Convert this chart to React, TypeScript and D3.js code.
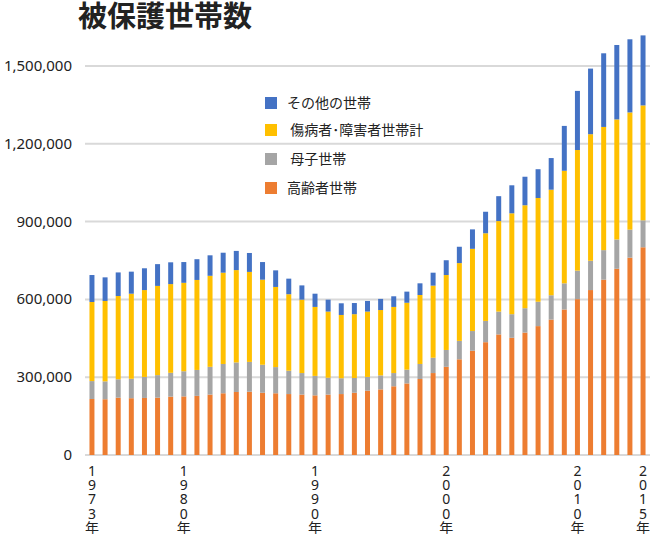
import * as d3 from "d3";
import { useEffect, useRef } from "react";

const years = d3.range(1973, 2016);
const labelYears = [1973, 1980, 1990, 2000, 2010, 2015];
const yTicks = [0, 300000, 600000, 900000, 1200000, 1500000];

// 千世帯単位
const elderly = [216, 215, 221, 219, 220, 221, 225, 226, 228, 233, 238, 243, 244, 240, 238, 235, 233, 230, 233, 235, 240, 248, 253, 265, 276, 293, 316, 340, 369, 402, 435, 465, 452, 472, 497, 522, 561, 601, 636, 676, 718, 761, 801];
const single = [69, 69, 71, 75, 81, 87, 92, 97, 100, 107, 113, 114, 115, 108, 101, 90, 83, 75, 65, 61, 57, 53, 54, 51, 53, 58, 59, 65, 71, 76, 82, 88, 91, 94, 94, 94, 101, 110, 113, 114, 113, 108, 104];
const disabled = [305, 310, 321, 328, 335, 344, 342, 341, 347, 351, 352, 356, 347, 328, 309, 295, 283, 266, 255, 244, 246, 252, 252, 255, 258, 266, 278, 289, 300, 317, 338, 349, 389, 397, 400, 407, 434, 465, 488, 475, 463, 452, 443];
const other = [104, 91, 91, 85, 84, 84, 84, 80, 80, 79, 77, 74, 73, 68, 64, 60, 55, 51, 46, 45, 43, 41, 43, 41, 43, 45, 50, 57, 63, 75, 83, 96, 108, 110, 111, 122, 173, 228, 253, 284, 287, 282, 270];

const seriesNames = ["高齢者世帯", "母子世帯", "傷病者･障害者世帯計", "その他の世帯"];
const legendLabels = ["その他の世帯", " 傷病者･障害者世帯計", " 母子世帯", "高齢者世帯"];
const colors = ["#ED7D31", "#A5A5A5", "#FFC000", "#4472C4"];

function ChartFc(container: HTMLElement) {
  const width = 650;
  const height = 534;
  const font = "'Noto Sans', 'Noto Sans CJK JP', sans-serif";

  const svg = d3.select(container)
    .append("svg")
    .attr("width", width)
    .attr("height", height)
    .attr("style", "position:absolute; left:0; top:0; background:#fff;");

  const rows = years.map((y, i) => ({
    year: y,
    [seriesNames[0]]: elderly[i] * 1000,
    [seriesNames[1]]: single[i] * 1000,
    [seriesNames[2]]: disabled[i] * 1000,
    [seriesNames[3]]: other[i] * 1000,
  }));
  const stacked = d3.stack<any>().keys(seriesNames)(rows);

  const x = d3.scaleBand<number>(years, [85.4, 649.6]).paddingInner(0.62).paddingOuter(0.31);
  const y = d3.scaleLinear([0, 1500000], [455, 66]);

  // タイトル
  svg.append("text")
    .attr("x", 78)
    .attr("y", 27)
    .attr("font-family", "'Noto Sans CJK JP', sans-serif")
    .attr("font-size", 29)
    .attr("font-weight", "bold")
    .attr("fill", "#222")
    .text("被保護世帯数");

  // グリッド
  svg.append("g")
    .selectAll("line")
    .data(yTicks)
    .join("line")
    .attr("x1", 85)
    .attr("x2", 650)
    .attr("y1", d => y(d))
    .attr("y2", d => y(d))
    .attr("stroke", "#d9d9d9")
    .attr("stroke-width", 2);

  svg.append("g")
    .selectAll("text")
    .data(yTicks)
    .join("text")
    .attr("x", 72)
    .attr("y", d => y(d) + 5)
    .attr("text-anchor", "end")
    .attr("font-family", font)
    .attr("font-size", 15)
    .attr("fill", "#222")
    .text(d => d3.format(",")(d));

  // 棒
  svg.append("g")
    .selectAll("g")
    .data(stacked)
    .join("g")
    .attr("fill", (_, i) => colors[i])
    .selectAll("rect")
    .data(d => d)
    .join("rect")
    .attr("x", d => x(d.data.year)!)
    .attr("width", x.bandwidth())
    .attr("y", d => y(d[1]))
    .attr("height", d => y(d[0]) - y(d[1]));

  // x軸ラベル（縦書き）
  const xl = svg.append("g")
    .selectAll("text")
    .data(labelYears)
    .join("text")
    .attr("font-family", font)
    .attr("font-size", 14)
    .attr("fill", "#222")
    .attr("text-anchor", "middle");
  xl.selectAll("tspan")
    .data(d => (String(d) + "年").split("").map(c => ({ c, yr: d })))
    .join("tspan")
    .attr("x", d => x(d.yr)! + x.bandwidth() / 2)
    .attr("y", (_, i) => 476 + i * 14.2)
    .text(d => d.c);

  // 凡例
  const legend = svg.append("g")
    .selectAll("g")
    .data(legendLabels)
    .join("g")
    .attr("transform", (_, i) => `translate(265, ${[103, 130, 159, 188][i]})`);
  legend.append("rect")
    .attr("x", 0)
    .attr("y", -6)
    .attr("width", 12)
    .attr("height", 12)
    .attr("fill", (_, i) => colors[3 - i]);
  legend.append("text")
    .attr("x", 22)
    .attr("y", 5)
    .attr("font-family", "'Noto Sans CJK JP', sans-serif")
    .attr("font-size", 14)
    .attr("fill", "#222")
    .attr("xml:space", "preserve")
    .style("white-space", "pre")
    .text(d => d);
}

export default function App() {
  const domRef = useRef<HTMLDivElement>(null);
  useEffect(() => {
    if (domRef.current) {
      ChartFc(domRef.current);
    }
    return () => {
      if (domRef.current) {
        d3.select(domRef.current).selectAll("svg").remove();
      }
    };
  }, [domRef]);
  return <div ref={domRef}></div>;
}
